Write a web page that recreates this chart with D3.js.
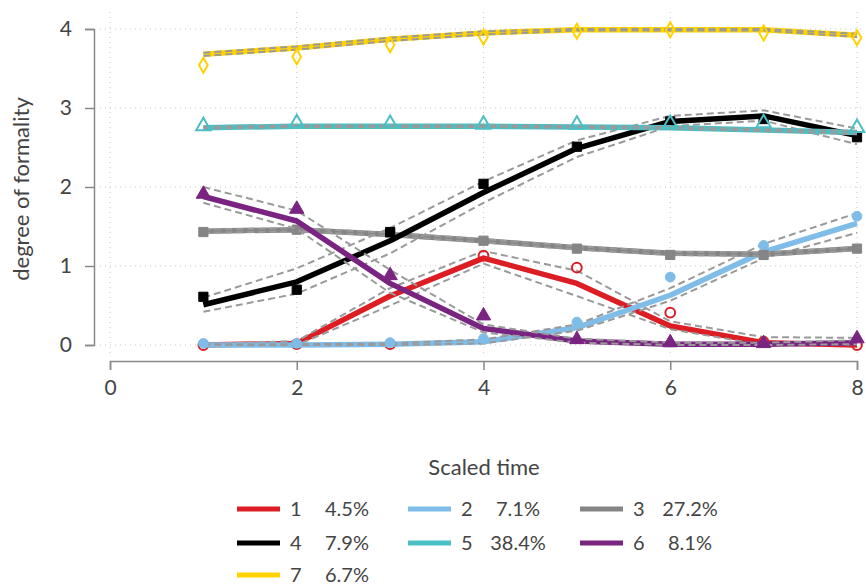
<!DOCTYPE html>
<html><head><meta charset="utf-8">
<script src="https://cdn.jsdelivr.net/npm/d3@7"></script>
<style>body{margin:0;background:#fff}svg{display:block}text{font-family:Lato,"Open Sans",sans-serif;fill:#444}</style>
</head><body><svg id="c" width="866" height="585"></svg>
<script>
const times = [1,2,3,4,5,6,7,8];
const seriesNames = ["1","2","3","4","5","6","7"];
const seriesShares = ["4.5%","7.1%","27.2%","7.9%","38.4%","8.1%","6.7%"];
const seriesColors = ["#dc1e24","#7fbde8","#858585","#000000","#4bbfc3","#7a2482","#ffd200"];
const seriesMarkers = ["circleOpen","circle","square","square","triangleOpen","triangle","diamondOpen"];
// observed points
const obs1 = [0.00,0.01,0.01,1.13,0.98,0.41,0.04,0.00];
const obs2 = [0.02,0.02,0.03,0.08,0.29,0.86,1.26,1.63];
const obs3 = [1.43,1.46,1.42,1.32,1.22,1.14,1.14,1.22];
const obs4 = [0.61,0.70,1.43,2.04,2.51,2.83,2.86,2.63];
const obs5 = [2.77,2.81,2.80,2.79,2.79,2.80,2.81,2.75];
const obs6 = [1.91,1.72,0.88,0.37,0.07,0.03,0.02,0.08];
const obs7 = [3.54,3.65,3.80,3.90,3.97,3.99,3.95,3.89];
// fitted lines
const fit1 = [0.00,0.02,0.62,1.10,0.78,0.24,0.03,0.00];
const fit2 = [0.00,0.00,0.01,0.04,0.22,0.63,1.18,1.54];
const fit3 = [1.44,1.46,1.40,1.32,1.23,1.16,1.15,1.22];
const fit4 = [0.51,0.80,1.32,1.93,2.49,2.83,2.90,2.65];
const fit5 = [2.75,2.77,2.77,2.77,2.76,2.75,2.72,2.69];
const fit6 = [1.88,1.57,0.78,0.21,0.05,0.01,0.01,0.03];
const fit7 = [3.68,3.76,3.87,3.95,3.99,3.99,3.99,3.92];
// confidence bounds
const lo1 = [0.00,0.00,0.50,1.03,0.62,0.20,0.00,0.00];
const hi1 = [0.01,0.05,0.72,1.19,0.94,0.30,0.10,0.09];
const lo2 = [0.00,0.00,0.00,0.02,0.18,0.56,1.10,1.42];
const hi2 = [0.01,0.01,0.02,0.07,0.26,0.72,1.28,1.67];
const lo3 = [1.42,1.44,1.38,1.30,1.21,1.14,1.13,1.20];
const hi3 = [1.46,1.48,1.42,1.34,1.25,1.18,1.17,1.24];
const lo4 = [0.42,0.65,1.16,1.80,2.38,2.77,2.84,2.54];
const hi4 = [0.60,0.97,1.48,2.07,2.59,2.90,2.97,2.74];
const lo5 = [2.74,2.76,2.76,2.76,2.75,2.74,2.71,2.67];
const hi5 = [2.76,2.78,2.78,2.78,2.77,2.76,2.73,2.71];
const lo6 = [1.80,1.47,0.66,0.16,0.03,0.00,0.00,0.01];
const hi6 = [2.00,1.70,0.95,0.26,0.08,0.03,0.03,0.06];
const lo7 = [3.66,3.74,3.85,3.93,3.98,3.98,3.98,3.90];
const hi7 = [3.70,3.78,3.89,3.97,4.00,4.00,4.00,3.94];
const xTicks = [0,2,4,6,8];
const yTicks = [0,1,2,3,4];

const obs = [obs1,obs2,obs3,obs4,obs5,obs6,obs7];
const fits = [fit1,fit2,fit3,fit4,fit5,fit6,fit7];
const los = [lo1,lo2,lo3,lo4,lo5,lo6,lo7];
const his = [hi1,hi2,hi3,hi4,hi5,hi6,hi7];

const svg = d3.select("#c");
const x = d3.scaleLinear().domain([0,8]).range([110,857]);
const y = d3.scaleLinear().domain([0,4]).range([345,29]);

// grid
const grid = svg.append("g").attr("stroke","#c8c8c8").attr("stroke-width",1).attr("stroke-dasharray","1,4");
grid.selectAll("line.v").data(xTicks).join("line").attr("x1",d=>x(d)).attr("x2",d=>x(d)).attr("y1",12).attr("y2",354);
grid.selectAll("line.h").data(yTicks).join("line").attr("y1",d=>y(d)).attr("y2",d=>y(d)).attr("x1",100).attr("x2",864);

// axes
const ax = svg.append("g").attr("transform","translate(0,361)")
  .call(d3.axisBottom(x).tickValues(xTicks).tickSize(9).tickPadding(10).tickFormat(d3.format("d")));
const ay = svg.append("g").attr("transform","translate(94,0)")
  .call(d3.axisLeft(y).tickValues(yTicks).tickSize(9).tickPadding(13).tickFormat(d3.format("d")));
[ax,ay].forEach(g=>{
  g.select(".domain").attr("stroke","#888").attr("stroke-width",1.5);
  g.selectAll(".tick line").attr("stroke","#888").attr("stroke-width",1.5);
  g.selectAll(".tick text").attr("font-size",21).attr("fill","#444").style("font-family","Lato,sans-serif");
});

svg.append("text").attr("x",484).attr("y",475).attr("text-anchor","middle").attr("font-size",22).text("Scaled time");
svg.append("text").attr("transform","translate(29,189) rotate(-90)").attr("text-anchor","middle").attr("font-size",22).text("degree of formality");

const line = d3.line().x((d,i)=>x(times[i])).y(d=>y(d));
const plot = svg.append("g");
seriesNames.forEach((name,k)=>{
  const g = plot.append("g");
  g.append("path").attr("d",line(fits[k])).attr("fill","none").attr("stroke",seriesColors[k]).attr("stroke-width",5.5).attr("stroke-linejoin","round");
  [los[k],his[k]].forEach(b=>{
    g.append("path").attr("d",line(b)).attr("fill","none").attr("stroke","#9a9a9a").attr("stroke-width",2).attr("stroke-dasharray","7,4");
  });
  const m = seriesMarkers[k], col = seriesColors[k];
  const open = m.endsWith("Open");
  const base = m.replace("Open","");
  const sym = {circle:d3.symbolCircle,square:d3.symbolSquare,triangle:d3.symbolTriangle,diamond:d3.symbolDiamond}[base];
  const size = {circle:75,square:85,triangle:90,diamond:65}[base];
  g.selectAll("path.pt").data(obs[k]).join("path")
    .attr("transform",(d,i)=>`translate(${x(times[i])},${y(d)})`)
    .attr("d",d3.symbol().type(sym).size(size))
    .attr("fill",open?"none":col).attr("stroke",col).attr("stroke-width",open?2:1);
});

// legend
const legX = [237,408,580];
const legY = [509,543,575];
const leg = svg.append("g");
seriesNames.forEach((name,k)=>{
  const cx = legX[k%3], cy = legY[Math.floor(k/3)];
  leg.append("line").attr("x1",cx).attr("x2",cx+43).attr("y1",cy).attr("y2",cy).attr("stroke",seriesColors[k]).attr("stroke-width",5);
  leg.append("text").attr("x",cx+53).attr("y",cy+7).attr("font-size",20).text(name);
  leg.append("text").attr("x",cx+110).attr("y",cy+7).attr("text-anchor","middle").attr("font-size",20).text(seriesShares[k]);
});
</script></body></html>
